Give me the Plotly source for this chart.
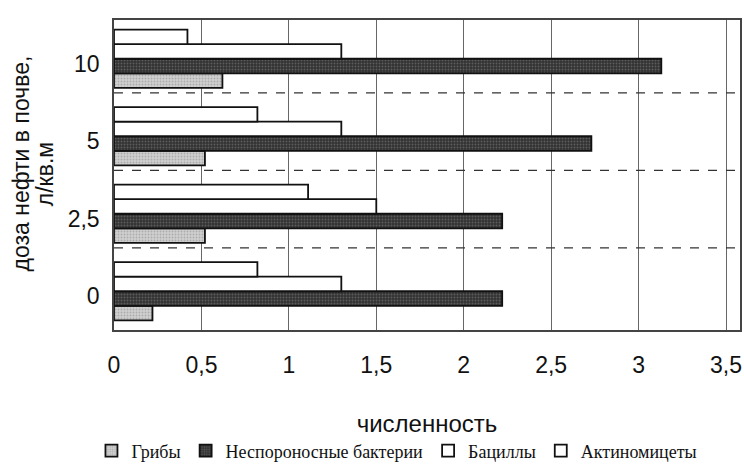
import plotly.graph_objects as go

categories = ["0", "2,5", "5", "10"]
series_names = ["Грибы", "Неспороносные бактерии", "Бациллы", "Актиномицеты"]
griby = [0.22, 0.52, 0.52, 0.62]
bakterii = [2.22, 2.22, 2.73, 3.13]
batsilly = [1.3, 1.5, 1.3, 1.3]
aktino = [0.82, 1.11, 0.82, 0.42]
x_ticks = [0, 0.5, 1, 1.5, 2, 2.5, 3, 3.5]
x_ticktext = ["0", "0,5", "1", "1,5", "2", "2,5", "3", "3,5"]

values = [griby, bakterii, batsilly, aktino]
fills = ["#cfcfcf", "#333333", "#ffffff", "#ffffff"]
patterns = [".", ".", "", ""]
pfg = ["#8a8a8a", "#858585", "#000000", "#000000"]

fig = go.Figure()
for name, vals, fc, pat, fg in zip(series_names, values, fills, patterns, pfg):
    fig.add_trace(go.Bar(
        y=categories, x=vals, name=name, orientation="h",
        marker=dict(color=fc, line=dict(color="#111111", width=1.8),
                    pattern=dict(shape=pat, fgcolor=fg, size=3, solidity=0.3)),
    ))

shapes = []
for yv in [0.56, 1.56, 2.56]:
    shapes.append(dict(type="line", xref="paper", yref="y", x0=0, x1=1, y0=yv, y1=yv,
                       line=dict(color="#333333", width=1.2, dash="dash")))

fig.update_layout(
    width=744, height=471,
    margin=dict(l=114, r=4, t=20, b=141, autoexpand=False),
    paper_bgcolor="white", plot_bgcolor="white",
    barmode="group", bargap=0.25, bargroupgap=0,
    font=dict(family="Liberation Sans, Arial, sans-serif", color="#111111"),
    xaxis=dict(range=[0, 3.58], tickvals=x_ticks, ticktext=x_ticktext,
               tickfont=dict(size=23), showgrid=True, gridcolor="#666666", gridwidth=1,
               showline=True, linecolor="#444444", linewidth=1.5, mirror=True, zeroline=False,
               ticks="", ticklabelstandoff=14,
               title=dict(text="численность", font=dict(size=24), standoff=38)),
    yaxis=dict(type="category", categoryorder="array", categoryarray=categories,
               tickfont=dict(size=23), showgrid=False, showline=True, linecolor="#444444",
               linewidth=1.5, mirror=True, ticks="", ticklabelstandoff=8,
               ticklabelshift=5),
    legend=dict(orientation="h", x=0.452, xanchor="center", y=-0.39, yanchor="middle",
                font=dict(family="Liberation Serif, DejaVu Serif, serif", size=18),
                itemwidth=30, traceorder="normal"),
    shapes=shapes,
    annotations=[
        dict(text="доза нефти в почве,", xref="paper", yref="paper",
             x=-0.1486, y=0.537, xanchor="center", yanchor="middle", textangle=-90,
             showarrow=False, font=dict(size=23)),
        dict(text="л/кв.м", xref="paper", yref="paper",
             x=-0.110, y=0.503, xanchor="center", yanchor="middle", textangle=-90,
             showarrow=False, font=dict(size=23)),
    ],
)

fig.write_html("out.html", config={"displayModeBar": False},
               post_script="document.body.style.margin='0';document.body.style.overflow='hidden';")
